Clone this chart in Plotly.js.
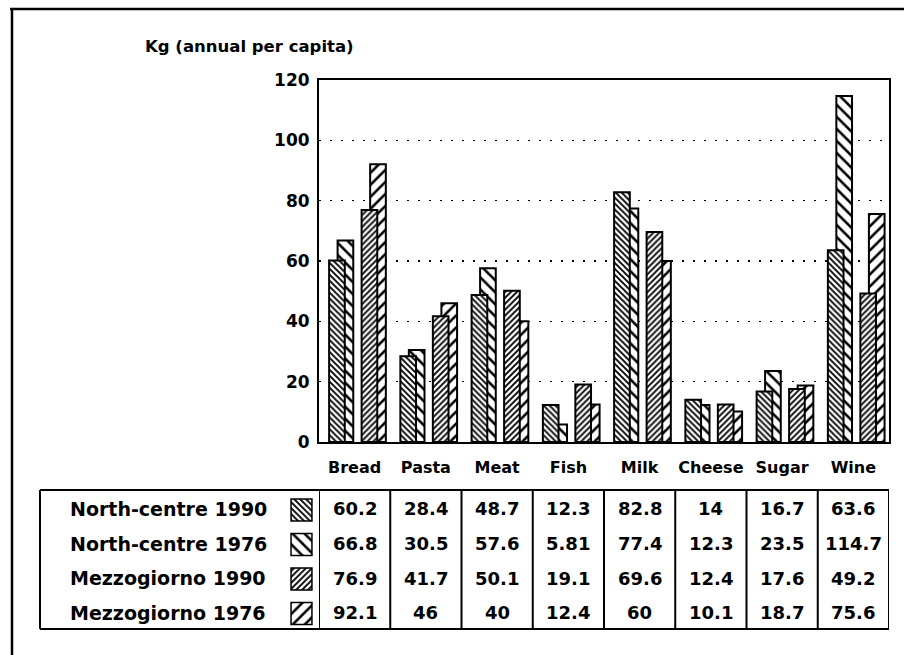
<!DOCTYPE html>
<html><head><meta charset="utf-8">
<script src="https://cdn.plot.ly/plotly-3.0.1.min.js"></script>
<style>html,body{margin:0;padding:0;background:#fff}#chart{width:907px;height:655px}</style>
</head><body><div id="chart"></div>
<script>
// ---- data ----
const categories = ['Bread', 'Pasta', 'Meat', 'Fish', 'Milk', 'Cheese', 'Sugar', 'Wine'];
const seriesNames = ['North-centre 1990', 'North-centre 1976', 'Mezzogiorno 1990', 'Mezzogiorno 1976'];
const northCentre1990 = [60.2, 28.4, 48.7, 12.3, 82.8, 14, 16.7, 63.6];
const northCentre1976 = [66.8, 30.5, 57.6, 5.81, 77.4, 12.3, 23.5, 114.7];
const mezzogiorno1990 = [76.9, 41.7, 50.1, 19.1, 69.6, 12.4, 17.6, 49.2];
const mezzogiorno1976 = [92.1, 46, 40, 12.4, 60, 10.1, 18.7, 75.6];
const yTickValues = [0, 20, 40, 60, 80, 100, 120];
const yTitle = 'Kg (annual per capita)';

// ---- layout helpers ----
const W = 907, H = 655, L = 12, R = 889, T = 9, B = 629;
const px = x => (x - L) / (R - L);
const py = y => (B - y) / (B - T);
const FONT = 'DejaVu Sans';

const seriesValues = [northCentre1990, northCentre1976, mezzogiorno1990, mezzogiorno1976];
const styles = [
  {shape: '\\', size: 4.2, solidity: 0.45, offset: -0.358},
  {shape: '\\', size: 8.5, solidity: 0.3, offset: -0.239},
  {shape: '/', size: 4.2, solidity: 0.45, offset: 0.098},
  {shape: '/', size: 8.5, solidity: 0.3, offset: 0.218}
];
const barWidth = 0.22;
const drawOrder = [1, 3, 0, 2];

const traces = drawOrder.map(i => ({
  type: 'bar',
  x: categories,
  y: seriesValues[i],
  name: seriesNames[i],
  offset: styles[i].offset,
  width: barWidth,
  marker: {
    color: 'white',
    line: {color: 'black', width: 2},
    pattern: {shape: styles[i].shape, size: styles[i].size, solidity: styles[i].solidity,
              fgcolor: 'black', bgcolor: 'white', fillmode: 'replace'}
  },
  showlegend: false,
  hoverinfo: 'x+y+name'
}));

// legend patches in the table
traces.push({
  type: 'bar',
  orientation: 'h',
  xaxis: 'x2', yaxis: 'y2',
  y: seriesNames.map((_, r) => r),
  x: seriesNames.map(() => 1),
  width: 0.64,
  marker: {
    color: 'white',
    line: {color: 'black', width: 1.5},
    pattern: {shape: styles.map(s => s.shape), size: styles.map(s => s.size),
              solidity: styles.map(s => s.solidity), fgcolor: 'black', bgcolor: 'white', fillmode: 'replace'}
  },
  showlegend: false,
  hoverinfo: 'skip'
});

const rowY = seriesNames.map((_, r) => 509 + 34.5 * r);
const lineStyle = {color: 'black', width: 2};

const shapes = [
  // outer frame
  {type: 'line', xref: 'paper', yref: 'paper', x0: px(10), x1: px(904), y0: py(9), y1: py(9), line: {color: 'black', width: 2.5}},
  {type: 'line', xref: 'paper', yref: 'paper', x0: px(12), x1: px(12), y0: py(9), y1: py(655), line: {color: 'black', width: 2.5}},
  // table border
  {type: 'line', xref: 'paper', yref: 'paper', x0: px(40), x1: 1, y0: py(490), y1: py(490), line: lineStyle},
  {type: 'line', xref: 'paper', yref: 'paper', x0: px(40), x1: 1, y0: 0, y1: 0, line: lineStyle},
  {type: 'line', xref: 'paper', yref: 'paper', x0: px(40), x1: px(40), y0: 0, y1: py(490), line: lineStyle}
];
for (let k = 0; k <= categories.length; k++) {
  shapes.push({type: 'line', xref: 'x', yref: 'paper', x0: k - 0.5, x1: k - 0.5, y0: 0, y1: py(490), line: lineStyle});
}

const annotations = [
  {text: yTitle, xref: 'paper', yref: 'paper', x: px(143), y: py(46), xanchor: 'left', yanchor: 'middle',
   showarrow: false, font: {family: FONT, size: 16.5, weight: 'bold', color: 'black'}}
];
seriesNames.forEach((name, r) => {
  annotations.push({text: name, xref: 'paper', yref: 'paper', x: px(68), y: py(rowY[r]), xanchor: 'left', yanchor: 'middle',
    showarrow: false, font: {family: FONT, size: 19, weight: 'bold', color: 'black'}});
  seriesValues[r].forEach((v, k) => {
    annotations.push({text: String(v), xref: 'x', yref: 'paper', x: k, y: py(rowY[r]), xanchor: 'center', yanchor: 'middle',
      showarrow: false, font: {family: FONT, size: 18, weight: 'bold', color: 'black'}});
  });
});

const layout = {
  width: W, height: H,
  margin: {l: L, r: W - R, t: T, b: H - B, pad: 0},
  paper_bgcolor: 'white', plot_bgcolor: 'white',
  barmode: 'overlay', showlegend: false,
  font: {family: FONT, color: 'black'},
  xaxis: {domain: [px(319), 1], type: 'category', range: [-0.5, 7.5], showline: true, linecolor: 'black', linewidth: 2,
          mirror: true, showgrid: false, zeroline: false, ticks: '', ticklabelstandoff: 10,
          tickfont: {family: FONT, size: 16, weight: 'bold', color: 'black'}, fixedrange: true},
  yaxis: {domain: [py(442), py(80)], range: [0, 120], tickvals: yTickValues, showline: true, linecolor: 'black', linewidth: 2,
          mirror: true, showgrid: true, gridcolor: 'black', gridwidth: 1.5, griddash: '2px,9px', zeroline: false, ticks: '',
          ticklabelstandoff: 4, tickfont: {family: FONT, size: 17, weight: 'bold', color: 'black'}, fixedrange: true},
  xaxis2: {domain: [px(290), px(313)], range: [-0.05, 1.05], visible: false, anchor: 'y2', fixedrange: true},
  yaxis2: {domain: [py(627), py(495)], range: [3.391, -0.435], visible: false, anchor: 'x2', fixedrange: true},
  shapes: shapes,
  annotations: annotations
};

Plotly.newPlot('chart', traces, layout, {displayModeBar: false, staticPlot: true});
</script>
</body></html>
